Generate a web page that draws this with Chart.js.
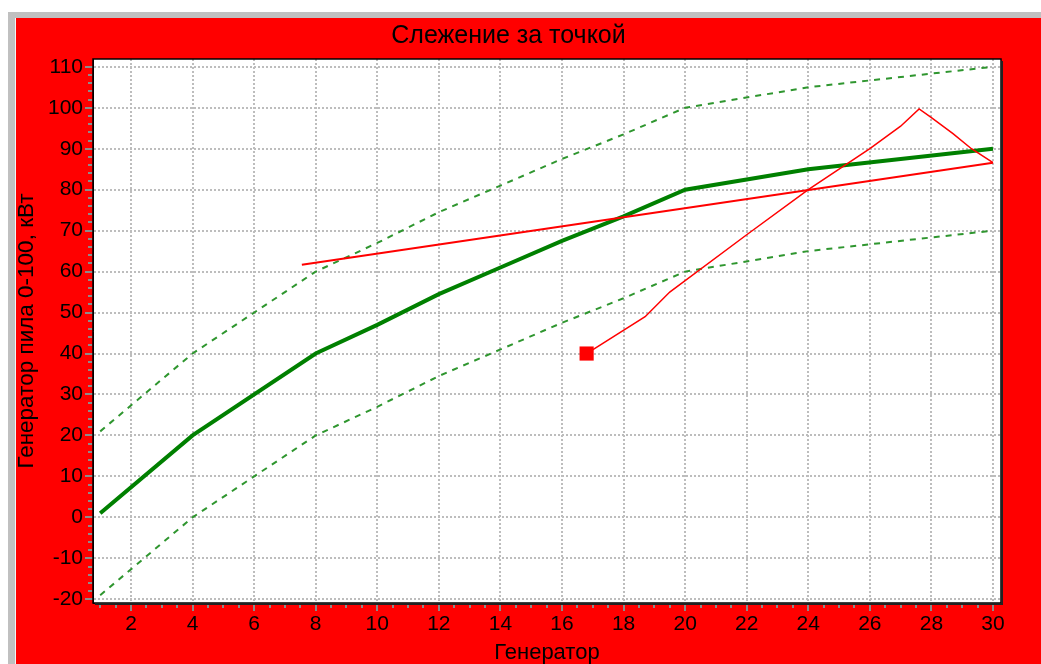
<!DOCTYPE html>
<html>
<head>
<meta charset="utf-8">
<script src="https://cdn.jsdelivr.net/npm/chart.js@4.4.0/dist/chart.umd.min.js"></script>
<style>
  html, body { margin: 0; padding: 0; background: #fff; overflow: hidden; }
  #frame {
    position: absolute; left: 8px; top: 12px; width: 1033px; height: 652px;
    box-sizing: border-box; border-left: 7px solid #c0c0c0; border-top: 6px solid #c0c0c0;
    background: #f4f4f4;
  }
  #inner { position: absolute; left: 1px; top: 0; right: 0; bottom: 0; background: #ff0000; }
  canvas { display: block; }
</style>
</head>
<body>
<div id="frame"><div id="inner"><canvas id="track-chart" width="1025" height="646"></canvas></div></div>
<script>
// main generator curve
const genX = [1, 4, 8, 10, 12, 14, 16, 18, 20, 24, 30];
const genY = [1, 20, 40, 47, 54.5, 61, 67.5, 73.5, 80, 85, 90];
// tolerance band +/- 20
const upperY = [21, 40, 60, 67, 74.5, 81, 87.5, 93.5, 100, 105, 110];
const lowerY = [-19, 0, 20, 27, 34.5, 41, 47.5, 53.5, 60, 65, 70];
// straight red line
const trendX = [7.55, 30];
const trendY = [61.7, 86.6];
// tracked point path (first point = square marker)
const pathX = [16.8, 18.7, 19.5, 22, 24, 26, 27, 27.6, 28, 28.7, 29.3, 30];
const pathY = [40, 49, 55, 69, 80, 90, 95.5, 99.7, 97.6, 93.7, 90, 86.6];

const xTicks = [2, 4, 6, 8, 10, 12, 14, 16, 18, 20, 22, 24, 26, 28, 30];
const yTicks = [-20, -10, 0, 10, 20, 30, 40, 50, 60, 70, 80, 90, 100, 110];

const pts = (xs, ys) => xs.map((v, i) => ({x: v, y: ys[i]}));
const font = 'Liberation Sans, Arial, sans-serif';

const frameTicks = {
  id: 'frameTicks',
  beforeDraw(chart) {
    const {ctx, chartArea: a} = chart;
    ctx.save();
    ctx.fillStyle = '#fff';
    ctx.fillRect(a.left, a.top, a.width, a.height);
    ctx.restore();
  },
  afterDraw(chart) {
    const {ctx, chartArea: a, scales: {x, y}} = chart;
    ctx.save();
    ctx.strokeStyle = '#8c8c8c';
    ctx.lineWidth = 2;
    ctx.beginPath();
    for (let v = -20; v <= 110; v += 2) {
      if (v % 10 === 0) continue;
      const py = Math.round(y.getPixelForValue(v));
      ctx.moveTo(a.left - 5, py); ctx.lineTo(a.left - 1, py);
    }
    for (let v = 1; v <= 30; v += 0.5) {
      if (v % 2 === 0) continue;
      const px = Math.round(x.getPixelForValue(v));
      ctx.moveTo(px, a.bottom + 1); ctx.lineTo(px, a.bottom + 5);
    }
    ctx.stroke();
    ctx.strokeStyle = '#000';
    ctx.lineWidth = 1.5;
    ctx.strokeRect(a.left, a.top, a.width, a.height);
    ctx.strokeStyle = '#222';
    ctx.lineWidth = 2;
    ctx.beginPath();
    ctx.moveTo(a.right + 1, a.top + 2);
    ctx.lineTo(a.right + 1, a.bottom + 1);
    ctx.lineTo(a.left + 2, a.bottom + 1);
    ctx.stroke();
    ctx.restore();
  }
};

new Chart(document.getElementById('track-chart'), {
  type: 'line',
  data: {
    datasets: [
      {
        label: 'Точка',
        data: pts(pathX, pathY),
        borderColor: '#ff0000',
        backgroundColor: '#ff0000',
        borderWidth: 1.5,
        pointStyle: 'rect',
        pointRadius: ctx => ctx.dataIndex === 0 ? 10 : 0,
        pointBorderWidth: 0
      },
      {
        label: 'Линия',
        data: pts(trendX, trendY),
        borderColor: '#ff0000',
        borderWidth: 2,
        pointRadius: 0
      },
      {
        label: 'Генератор',
        data: pts(genX, genY),
        borderColor: '#008000',
        borderWidth: 4,
        pointRadius: 0
      },
      {
        label: 'Верх',
        data: pts(genX, upperY),
        borderColor: '#2f962f',
        borderWidth: 2,
        borderDash: [6, 6],
        pointRadius: 0
      },
      {
        label: 'Низ',
        data: pts(genX, lowerY),
        borderColor: '#2f962f',
        borderWidth: 2,
        borderDash: [6, 6],
        pointRadius: 0
      }
    ]
  },
  options: {
    responsive: false,
    animation: false,
    layout: { padding: { left: 0, right: 40, top: 0, bottom: 0 } },
    plugins: {
      legend: { display: false },
      tooltip: { enabled: false },
      title: {
        display: true,
        text: 'Слежение за точкой',
        color: '#000',
        font: { family: font, size: 25, weight: 'normal', lineHeight: 1.2 },
        padding: { top: 3, bottom: 8 }
      }
    },
    scales: {
      x: {
        type: 'linear',
        min: 0.766,
        max: 30.26,
        afterBuildTicks: s => { s.ticks = xTicks.map(v => ({value: v})); },
        afterFit: s => { s.height = 61; },
        ticks: { color: '#000', font: { family: font, size: 21 }, padding: 1, maxRotation: 0 },
        grid: { color: '#bdbdbd', lineWidth: 2, tickLength: 8, tickColor: '#8c8c8c', tickWidth: 2 },
        border: { display: true, color: '#000', width: 1, dash: [2, 2] },
        title: {
          display: true,
          text: 'Генератор',
          color: '#000',
          font: { family: font, size: 22, lineHeight: 1 },
          padding: { top: 0, bottom: 0 }
        }
      },
      y: {
        min: -20.9,
        max: 111.9,
        afterBuildTicks: s => { s.ticks = yTicks.map(v => ({value: v})); },
        afterFit: s => { s.width = 77; },
        ticks: { color: '#000', font: { family: font, size: 21 }, padding: 2 },
        grid: { color: '#bdbdbd', lineWidth: 2, tickLength: 8, tickColor: '#8c8c8c', tickWidth: 2 },
        border: { display: true, color: '#000', width: 1, dash: [2, 2] },
        title: {
          display: true,
          text: 'Генератор пила 0-100, кВт',
          color: '#000',
          font: { family: font, size: 22.5, lineHeight: 1 },
          padding: { top: 0, bottom: 0 }
        }
      }
    }
  },
  plugins: [frameTicks]
});
</script>
</body>
</html>
